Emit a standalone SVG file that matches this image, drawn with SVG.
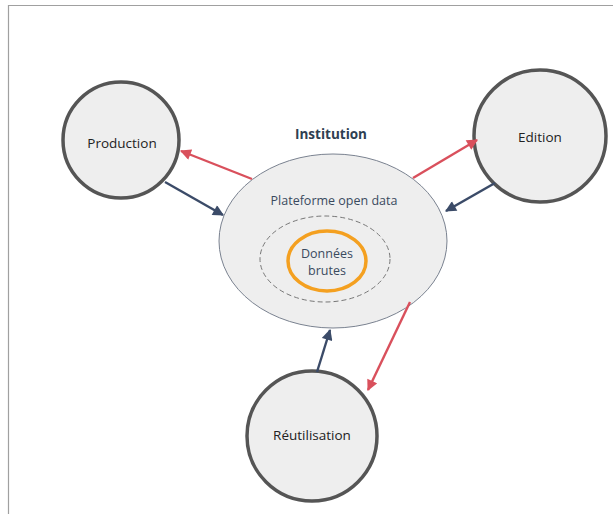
<svg xmlns="http://www.w3.org/2000/svg" width="613" height="514" viewBox="0 0 613 514">
<style>
.node{fill:#eeeeee;stroke:#555555;stroke-width:3.5}
.lbl{font-family:"Open Sans","Noto Sans",sans-serif;font-size:13.5px;fill:#222222;text-anchor:middle}
.in{font-family:"Open Sans","Noto Sans",sans-serif;font-size:12.5px;fill:#3a4a5e;text-anchor:middle}
.red{stroke:#d9505c;stroke-width:2.4;fill:none}
.blue{stroke:#3b4b68;stroke-width:2.4;fill:none}
</style>
<defs>
<marker id="ar" viewBox="0 0 10 10" refX="9" refY="5" markerWidth="12" markerHeight="11" orient="auto" markerUnits="userSpaceOnUse"><path d="M0,0 L10,5 L0,10 Z" fill="#d9505c"/></marker>
<marker id="ab" viewBox="0 0 10 10" refX="9" refY="5" markerWidth="12" markerHeight="11" orient="auto" markerUnits="userSpaceOnUse"><path d="M0,0 L10,5 L0,10 Z" fill="#3b4b68"/></marker>
</defs>
<rect width="613" height="514" fill="#ffffff"/>
<path d="M8.5,514 V5.5 H613" fill="none" stroke="#a0a0a0" stroke-width="1.2"/>
<g id="institution">
<text x="331" y="139" style="font-family:'Open Sans','Noto Sans',sans-serif;font-size:13.5px;font-weight:bold;fill:#2e4052;text-anchor:middle">Institution</text>
</g>
<g id="plateforme">
<ellipse cx="333" cy="241" rx="114" ry="87" fill="#eeeeee" stroke="#7a8290" stroke-width="1"/>
<text class="in" x="334" y="205">Plateforme open data</text>
<ellipse cx="325" cy="259" rx="65" ry="43" fill="none" stroke="#777777" stroke-width="1" stroke-dasharray="5,3"/>
</g>
<g id="donnees">
<ellipse cx="327" cy="261" rx="39" ry="30" fill="#eeeeee" stroke="#f4a020" stroke-width="3.5"/>
<text class="in" x="327" y="258">Données</text>
<text class="in" x="327" y="275">brutes</text>
</g>
<g id="production">
<circle class="node" cx="121" cy="140" r="58"/>
<text class="lbl" x="122" y="148">Production</text>
</g>
<g id="edition">
<circle class="node" cx="540" cy="136" r="66"/>
<text class="lbl" x="540" y="142">Edition</text>
</g>
<g id="reutilisation">
<circle class="node" cx="312" cy="436" r="65"/>
<text class="lbl" x="312" y="440">Réutilisation</text>
</g>
<g id="connectors">
<line class="red" x1="252" y1="179" x2="181" y2="151" marker-end="url(#ar)"/>
<line class="blue" x1="165" y1="182" x2="223" y2="215" marker-end="url(#ab)"/>
<line class="red" x1="413" y1="178" x2="477" y2="140" marker-end="url(#ar)"/>
<line class="blue" x1="495" y1="183" x2="446" y2="211" marker-end="url(#ab)"/>
<line class="blue" x1="317" y1="372" x2="330" y2="330" marker-end="url(#ab)"/>
<line class="red" x1="410" y1="302" x2="368" y2="390" marker-end="url(#ar)"/>
</g>
</svg>
